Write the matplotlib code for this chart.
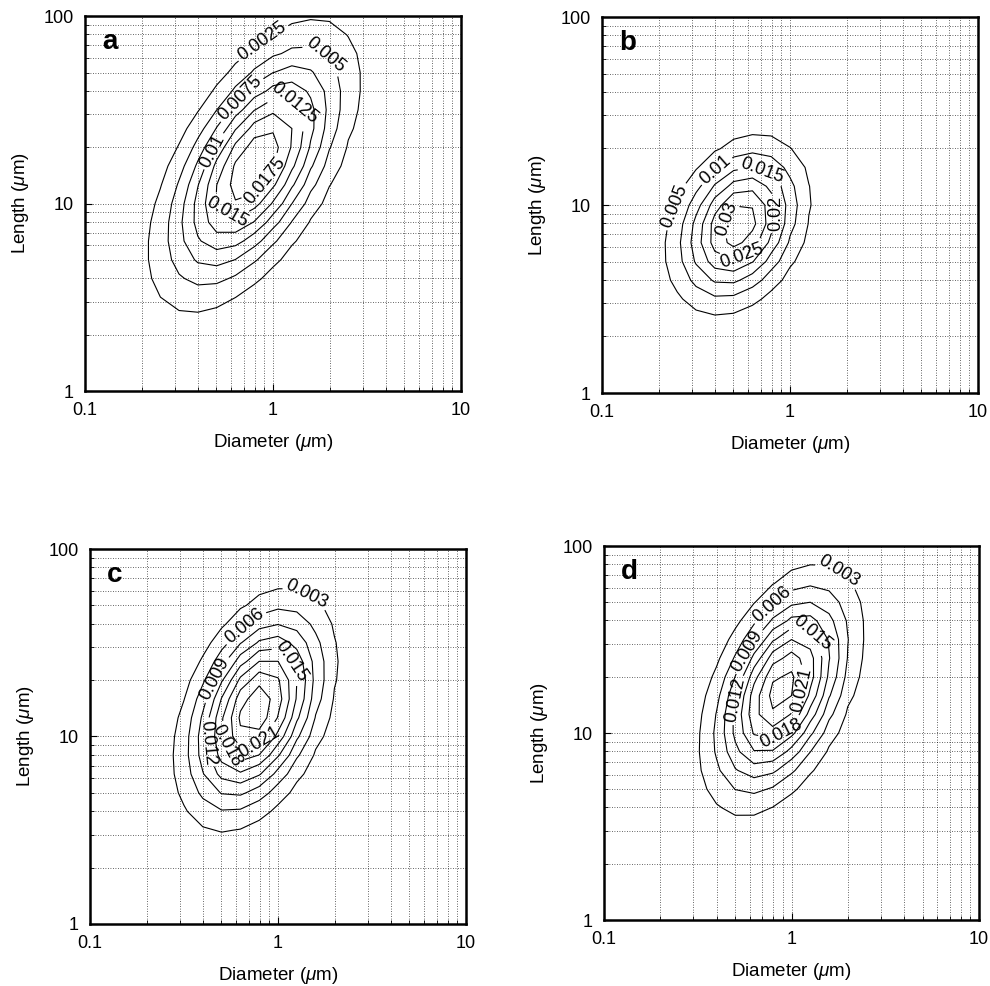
import numpy as np
import matplotlib
matplotlib.use('Agg')
from matplotlib import pyplot as plt
from matplotlib.ticker import LogLocator, NullFormatter, FixedLocator, FixedFormatter

plt.rcParams['font.family'] = ['Liberation Sans', 'DejaVu Sans']
plt.rcParams['mathtext.fontset'] = 'custom'
plt.rcParams['mathtext.it'] = 'Liberation Sans:italic'

# panel data: bivariate log-normal fits
panel_names = ['a', 'b', 'c', 'd']
peak_density = [0.0198, 0.0340, 0.0265, 0.0256]
median_diameter = [0.79, 0.53, 0.76, 0.88]   # um
median_length = [15.8, 7.8, 13.8, 17.0]      # um
sigma_log_d = [0.275, 0.196, 0.207, 0.21]    # decades
sigma_log_l = [0.383, 0.243, 0.311, 0.325]   # decades
correlation = [0.59, 0.28, 0.40, 0.46]

levels_a = [0.0025, 0.005, 0.0075, 0.01, 0.0125, 0.015, 0.0175]
levels_b = [0.005, 0.01, 0.015, 0.02, 0.025, 0.03]
levels_c = [0.003, 0.006, 0.009, 0.012, 0.015, 0.018, 0.021, 0.024]
levels_d = [0.003, 0.006, 0.009, 0.012, 0.015, 0.018, 0.021, 0.024]
all_levels = [levels_a, levels_b, levels_c, levels_d]

# which contours carry a label, as in the original
labelled_a = [0.0025, 0.005, 0.0075, 0.0125, 0.01, 0.0175, 0.015]
labelled_b = [0.005, 0.01, 0.015, 0.02, 0.03, 0.025]
labelled_c = [0.003, 0.006, 0.009, 0.015, 0.012, 0.018, 0.021]
labelled_d = [0.003, 0.006, 0.009, 0.012, 0.015, 0.021, 0.018]
all_labelled = [labelled_a, labelled_b, labelled_c, labelled_d]

# approximate spots where the labels sit (diameter, length)
label_spots = [
    [(0.88, 72), (2.0, 66), (0.67, 36), (1.34, 35), (0.48, 19), (0.88, 13.5), (0.57, 9)],
    [(0.245, 9.8), (0.41, 14.8), (0.71, 15.3), (0.9, 9), (0.44, 8.6), (0.56, 5.3)],
    [(1.36, 53), (0.68, 37), (0.47, 20), (1.28, 27), (0.40, 9.2), (0.56, 9.2), (0.82, 9.0)],
    [(1.7, 68), (0.78, 49), (0.58, 27.5), (0.5, 15), (1.32, 35), (1.13, 17), (0.88, 10)],
]

# coarse grid in log space -> polygonal contours like the original
log_d = np.arange(-1.0, 1.0001, 0.1)
log_l = np.arange(0.0, 2.0001, 0.1)
LD, LL = np.meshgrid(log_d, log_l)

# axes rectangles [left, bottom, width, height]
rects = [
    [0.0859, 0.6034, 0.3798, 0.3803],
    [0.6081, 0.6014, 0.3798, 0.3813],
    [0.0909, 0.0629, 0.3798, 0.3803],
    [0.6101, 0.0669, 0.3788, 0.3793],
]

fig = plt.figure(figsize=(9.9, 9.86), dpi=100)

for i, name in enumerate(panel_names):
    ax = fig.add_axes(rects[i])
    ax.set_xscale('log')
    ax.set_yscale('log')
    ax.set_xlim(0.1, 10)
    ax.set_ylim(1, 100)

    zx = (LD - np.log10(median_diameter[i])) / sigma_log_d[i]
    zy = (LL - np.log10(median_length[i])) / sigma_log_l[i]
    r = correlation[i]
    q = (zx**2 - 2 * r * zx * zy + zy**2) / (1 - r**2)
    Z = peak_density[i] * np.exp(-0.5 * q)

    spots = dict(zip(all_labelled[i], label_spots[i]))
    for lv in all_levels[i]:
        cs = ax.contour(10**LD, 10**LL, Z, levels=[lv], colors='black', linewidths=0.8)
        if lv in spots:
            ax.clabel(cs, manual=[spots[lv]], fmt=lambda v: f'{v:g}',
                      fontsize=13, inline=True, inline_spacing=3)

    ax.xaxis.set_major_locator(FixedLocator([0.1, 1, 10]))
    ax.xaxis.set_major_formatter(FixedFormatter(['0.1', '1', '10']))
    ax.yaxis.set_major_locator(FixedLocator([1, 10, 100]))
    ax.yaxis.set_major_formatter(FixedFormatter(['1', '10', '100']))
    ax.xaxis.set_minor_locator(LogLocator(base=10, subs=np.arange(2, 10)))
    ax.yaxis.set_minor_locator(LogLocator(base=10, subs=np.arange(2, 10)))
    ax.xaxis.set_minor_formatter(NullFormatter())
    ax.yaxis.set_minor_formatter(NullFormatter())
    ax.tick_params(which='both', direction='in', labelsize=13)
    ax.tick_params(which='major', length=5, pad=8)
    ax.tick_params(which='minor', length=3)
    ax.grid(True, which='both', linestyle=(0, (1, 2)), color='black', linewidth=0.6, alpha=0.8)

    for sp in ax.spines.values():
        sp.set_linewidth(1.8)

    ax.set_xlabel(r'Diameter ($\mu$m)', fontsize=13.5, labelpad=9)
    ax.set_ylabel(r'Length ($\mu$m)', fontsize=13.5, labelpad=9)
    ax.text(0.045, 0.965, name, transform=ax.transAxes, fontsize=20, fontweight='bold',
            ha='left', va='top')

fig.savefig('out.png', dpi=100)
